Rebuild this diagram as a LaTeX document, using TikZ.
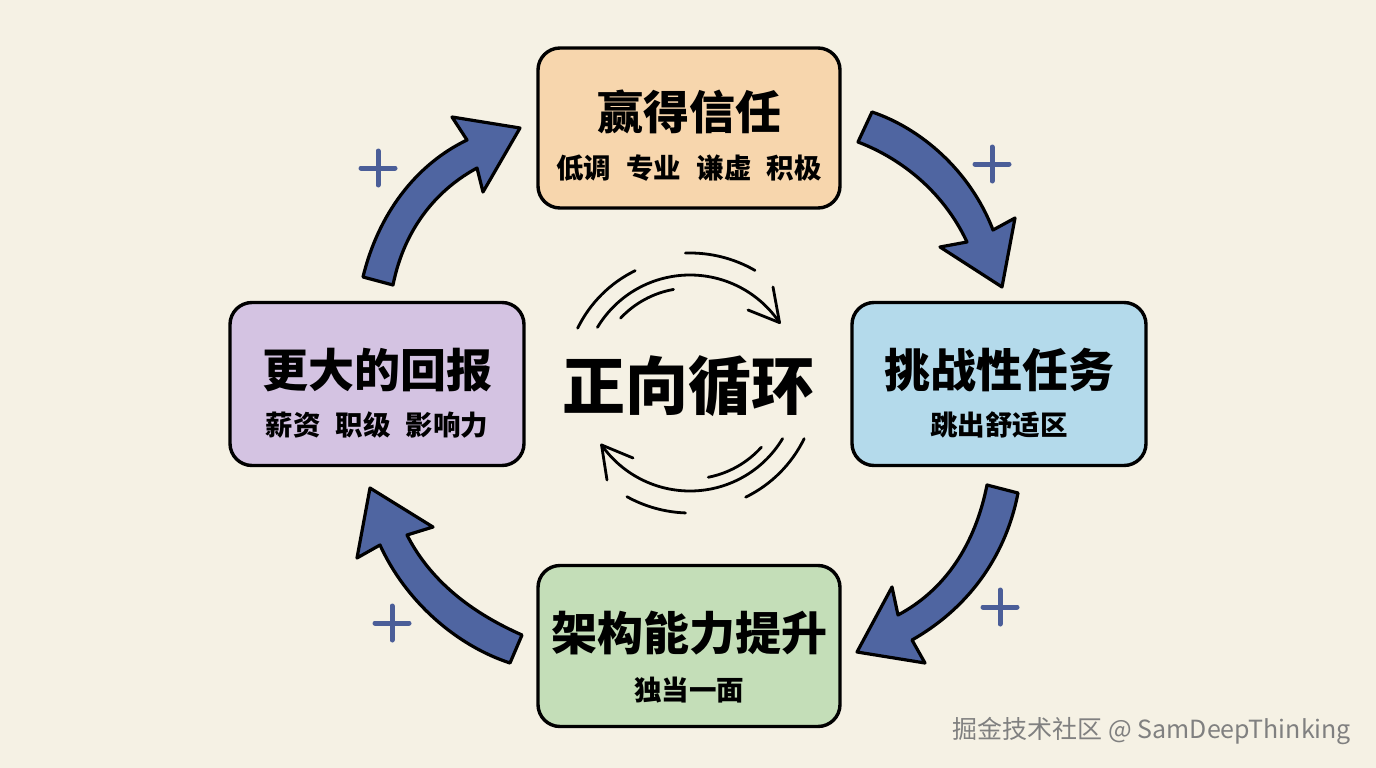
\documentclass[tikz,border=0pt]{standalone}
\usepackage{fontspec}
\setmainfont{Noto Sans CJK SC}
\newfontfamily\cjk{Noto Sans CJK SC}
\usetikzlibrary{calc}
\definecolor{bg}{HTML}{F5F1E4}
\definecolor{peach}{HTML}{F7D6AD}
\definecolor{skyb}{HTML}{B4DAEB}
\definecolor{lav}{HTML}{D4C3E2}
\definecolor{mint}{HTML}{C4DEB8}
\definecolor{arrowblue}{HTML}{4F65A1}
\definecolor{plusblue}{HTML}{4B5E98}
\newcommand{\gap}{\hspace{0.55em}}
\tikzset{
  card/.style={draw=black, line width=3.4pt, rounded corners=22pt, minimum width=#1, inner sep=0pt},
  ttl/.style={font=\cjk\bfseries\fontsize{46}{50}\selectfont, inner sep=0pt},
  sub/.style={font=\cjk\bfseries\fontsize{27.5}{30}\selectfont, inner sep=0pt},
  bigarrow/.style={fill=arrowblue, draw=black, line width=3.2pt, line join=round},
  plussign/.style={draw=plusblue, line width=5pt, line cap=round},
  swirl/.style={draw=black, line width=2.8pt, line cap=round, line join=round},
}
\begin{document}
\begin{tikzpicture}[x=1pt,y=-1pt]
\useasboundingbox (0,0) rectangle (1376,768);
\fill[bg] (0,0) rectangle (1376,768);

% cards
\node[card=302pt, minimum height=160pt, fill=peach] (top) at (689,128) {};
\node[ttl] (topT) at ($(top.center)+(0,-16)$) {赢得信任};
\node[sub] (topS) at ($(top.center)+(0,40)$) {低调\gap 专业\gap 谦虚\gap 积极};

\node[card=294pt, minimum height=163pt, fill=skyb] (right) at (999,384) {};
\node[ttl] (rightT) at ($(right.center)+(0,-14)$) {挑战性任务};
\node[sub] (rightS) at ($(right.center)+(0,41)$) {跳出舒适区};

\node[card=302pt, minimum height=161pt, fill=mint] (bottom) at (689,646) {};
\node[ttl] (bottomT) at ($(bottom.center)+(0,-13)$) {架构能力提升};
\node[sub] (bottomS) at ($(bottom.center)+(0,44)$) {独当一面};

\node[card=294pt, minimum height=163pt, fill=lav] (left) at (377,384) {};
\node[ttl] (leftT) at ($(left.center)+(0,-14)$) {更大的回报};
\node[sub] (leftS) at ($(left.center)+(0,41)$) {薪资\gap 职级\gap 影响力};

% big arrows
\draw[bigarrow] (363,277) .. controls (378,215) and (415,165) .. (467,140) -- (452,117) -- (520,128) -- (483,192) -- (477,168) .. controls (440,188) and (405,225) .. (393,285) -- cycle;
\draw[bigarrow] (872,112) .. controls (920,128) and (970,170) .. (993,230) -- (1015,218) -- (1002,287) -- (940,247) -- (967,242) .. controls (945,195) and (905,160) .. (858,142) -- cycle;
\draw[bigarrow] (987,485) .. controls (975,545) and (945,590) .. (898,615) -- (892,587) -- (857,652) -- (925,663) -- (912,640) .. controls (965,610) and (1005,560) .. (1018,493) -- cycle;
\draw[bigarrow] (522,635) .. controls (470,612) and (430,580) .. (407,535) -- (433,527) -- (370,488) -- (357,558) -- (380,545) .. controls (405,600) and (455,645) .. (510,663) -- cycle;

% plus signs
\foreach \px/\py in {378/168, 992/164, 1000/607, 392/623}{
  \draw[plussign] (\px-17,\py) -- (\px+17,\py) (\px,\py-17) -- (\px,\py+17);
}

% center
\coordinate (c) at (690,383);
\node[font=\cjk\bfseries\fontsize{63}{66}\selectfont, inner sep=0pt] (center) at (688,386) {正向循环};
\draw[swirl] ($(c)+(-149:108)$) arc[start angle=-149, end angle=-34, radius=108] coordinate (tipA);
\draw[swirl] (748,310) -- (tipA) -- (773,287);
\draw[swirl] ($(c)+(-154:125)$) arc[start angle=-154, end angle=-116, radius=125];
\draw[swirl] ($(c)+(-137:95)$) arc[start angle=-137, end angle=-100, radius=95];
\draw[swirl] ($(c)+(-92:130)$) arc[start angle=-92, end angle=-60, radius=130];

\draw[swirl] ($(c)+(31:108)$) arc[start angle=31, end angle=145, radius=108] coordinate (tipB);
\draw[swirl] (633,458) -- (tipB) -- (607,480);
\draw[swirl] ($(c)+(42:96)$) arc[start angle=42, end angle=79, radius=96];
\draw[swirl] ($(c)+(26:127)$) arc[start angle=26, end angle=64, radius=127];
\draw[swirl] ($(c)+(92:130)$) arc[start angle=92, end angle=119, radius=130];

% watermark
\node[font=\cjk\fontsize{25}{27}\selectfont, text=black!50, inner sep=0pt] (wm) at (1152,731) {掘金技术社区 @ SamDeepThinking};
\end{tikzpicture}
\end{document}
